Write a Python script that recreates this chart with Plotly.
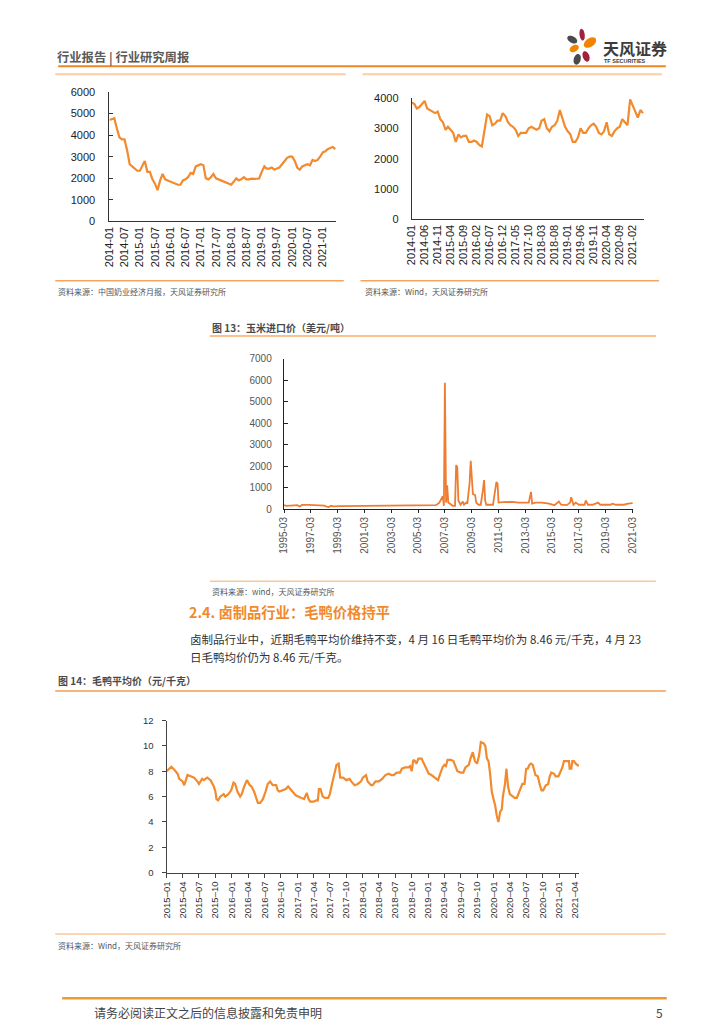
import math
import pandas as pd
import plotly.graph_objects as go

W, H = 724, 1024
ORANGE = "#F28A2E"
CJK = "Noto Sans CJK SC"
NUM = "Liberation Sans"

# ---------------- data ----------------
milk_start = "2014-01-01"
milk_vals = [4700, 4750, 4780, 4300, 3900, 3800, 3800, 3300, 2650, 2550, 2450, 2350,
             2350, 2600, 2800, 2300, 2300, 1950, 1750, 1450, 1900, 2200, 1950, 1900,
             1850, 1800, 1750, 1700, 1700, 1900, 1950, 2050, 2250, 2200, 2550, 2600,
             2650, 2600, 2000, 1950, 2050, 2200, 2000, 1950, 1900, 1850, 1800, 1750,
             1700, 1850, 2000, 1900, 1950, 2050, 1950, 1950, 1980, 1970, 1980, 1990,
             2300, 2550, 2450, 2450, 2500, 2400, 2450, 2500, 2650, 2800, 2950, 3000,
             3000, 2800, 2500, 2400, 2550, 2600, 2650, 2600, 2850, 2800, 2850, 3000,
             3200, 3250, 3350, 3400, 3450, 3350]

feed_start = "2014-01-01"
feed_vals = [3850, 3800, 3650, 3700, 3800, 3900, 3650, 3600, 3550, 3500, 3550, 3300,
             3200, 2950, 3050, 2950, 2850, 2550, 2800, 2700, 2750, 2750, 2550, 2550,
             2600, 2550, 2450, 2400, 2900, 3450, 3400, 3100, 3150, 3250, 3250, 3500,
             3400, 3200, 3100, 3050, 2950, 2750, 2850, 2850, 2850, 3000, 3050, 3000,
             2950, 3000, 3250, 3300, 3000, 2900, 3050, 3100, 3250, 3600, 3300, 3050,
             2900, 2800, 2550, 2550, 2700, 3000, 2850, 2850, 3000, 3100, 3150, 3050,
             2850, 2800, 2900, 3200, 2800, 2750, 2900, 3000, 3050, 3300, 3200, 3100,
             3950, 3750, 3600, 3350, 3600, 3500]

corn_dates = ["1995-03", "1995-05", "1995-12", "1996-03", "1996-05", "1996-07", "1997-01", "1997-09",
              "1998-03", "1998-05", "1998-07", "1998-09", "1998-11", "1999-05", "2001-03", "2003-03",
              "2005-03", "2006-07", "2006-10", "2006-12", "2007-01", "2007-02", "2007-03", "2007-04",
              "2007-05", "2007-06", "2007-10", "2007-12", "2008-01", "2008-02", "2008-03", "2008-05",
              "2008-07", "2008-08", "2008-10", "2008-11", "2009-01", "2009-02", "2009-03", "2009-04",
              "2009-06", "2009-07", "2009-09", "2009-11", "2010-01", "2010-02", "2010-03", "2010-04",
              "2010-10", "2010-12", "2011-01", "2011-02", "2011-03", "2011-07", "2012-03", "2012-09",
              "2013-06", "2013-08", "2013-09", "2013-12", "2014-06", "2014-12", "2015-05", "2015-09",
              "2015-11", "2016-04", "2016-07", "2016-08", "2016-10", "2016-12", "2017-03", "2017-08",
              "2017-09", "2017-11", "2018-03", "2018-08", "2018-10", "2019-07", "2019-09", "2019-12",
              "2020-07", "2020-11", "2021-03"]
corn_vals = [180, 150, 170, 180, 120, 190, 190, 180, 160, 110, 90, 150, 120, 140, 150, 160,
             170, 180, 300, 500, 600, 150, 5880, 300, 1100, 300, 150, 150, 2050, 1950, 400, 200,
             350, 200, 300, 250, 1200, 2250, 1300, 700, 650, 300, 200, 200, 900, 1350, 400, 200,
             200, 900, 1250, 1200, 300, 320, 330, 300, 300, 800, 250, 300, 300, 250, 180, 350,
             200, 180, 300, 550, 200, 300, 200, 200, 400, 200, 200, 300, 200, 200, 250, 200,
             200, 250, 280]

duck_dates = ["2015-01-01", "2015-01-19", "2015-01-28", "2015-02-15", "2015-03-04", "2015-03-13",
              "2015-04-01", "2015-04-10", "2015-04-28", "2015-05-16", "2015-06-04", "2015-06-22",
              "2015-07-01", "2015-07-19", "2015-07-28", "2015-08-16", "2015-09-04", "2015-09-22",
              "2015-10-01", "2015-10-07", "2015-10-16", "2015-10-28", "2015-11-16", "2015-11-25",
              "2015-12-13", "2015-12-28", "2016-01-10", "2016-01-19", "2016-02-01", "2016-02-16",
              "2016-02-25", "2016-03-10", "2016-03-25", "2016-04-10", "2016-04-19", "2016-05-04",
              "2016-05-16", "2016-05-25", "2016-06-07", "2016-06-22", "2016-07-07", "2016-07-19",
              "2016-08-01", "2016-08-16", "2016-09-04", "2016-09-13", "2016-09-22", "2016-10-10",
              "2016-10-28", "2016-11-10", "2016-11-25", "2016-12-10", "2016-12-22", "2017-01-10",
              "2017-01-28", "2017-02-07", "2017-02-22", "2017-03-04", "2017-03-13", "2017-04-01",
              "2017-04-16", "2017-04-25", "2017-05-01", "2017-05-10", "2017-05-22", "2017-06-04",
              "2017-06-22", "2017-07-01", "2017-07-13", "2017-07-25", "2017-08-07", "2017-08-19",
              "2017-08-28", "2017-09-13", "2017-10-01", "2017-10-19", "2017-10-28", "2017-11-16",
              "2017-12-04", "2017-12-22", "2018-01-01", "2018-01-19", "2018-01-28", "2018-02-16",
              "2018-02-25", "2018-03-13", "2018-04-01", "2018-04-19", "2018-05-07", "2018-05-25",
              "2018-06-10", "2018-06-22", "2018-07-10", "2018-07-28", "2018-08-07", "2018-08-25",
              "2018-09-13", "2018-09-22", "2018-10-01", "2018-10-10", "2018-10-19", "2018-10-28",
              "2018-11-07", "2018-11-25", "2018-12-10", "2018-12-22", "2019-01-04", "2019-01-19",
              "2019-02-07", "2019-02-25", "2019-03-04", "2019-03-22", "2019-04-01", "2019-04-10",
              "2019-04-19", "2019-05-07", "2019-05-22", "2019-06-04", "2019-06-13", "2019-07-01",
              "2019-07-16", "2019-07-28", "2019-08-16", "2019-08-25", "2019-09-07", "2019-09-19",
              "2019-10-01", "2019-10-13", "2019-10-22", "2019-11-07", "2019-11-16", "2019-11-25",
              "2019-12-04", "2019-12-13", "2019-12-22", "2020-01-01", "2020-01-10", "2020-01-19",
              "2020-01-28", "2020-02-07", "2020-02-16", "2020-02-22", "2020-02-28", "2020-03-04",
              "2020-03-13", "2020-03-22", "2020-04-01", "2020-04-16", "2020-04-28", "2020-05-10",
              "2020-05-25", "2020-06-10", "2020-06-22", "2020-07-01", "2020-07-10", "2020-07-19",
              "2020-07-28", "2020-08-07", "2020-08-22", "2020-09-04", "2020-09-16", "2020-09-25",
              "2020-10-04", "2020-10-19", "2020-11-01", "2020-11-10", "2020-11-19", "2020-12-04",
              "2020-12-13", "2020-12-28", "2021-01-07", "2021-01-19", "2021-01-28", "2021-02-10",
              "2021-02-25", "2021-03-01", "2021-03-10", "2021-03-16", "2021-03-25", "2021-04-04",
              "2021-04-16", "2021-04-23"]
duck_vals = [8.0, 8.2, 8.35, 8.1, 7.8, 7.4, 7.2, 6.9, 7.7, 7.6, 7.5, 7.2,
             7.0, 7.4, 7.3, 7.5, 7.3, 6.8, 6.4, 5.8, 5.7, 6.0, 6.2, 6.0,
             6.2, 6.5, 7.1, 7.0, 6.4, 6.0, 6.2, 6.8, 7.3, 6.9, 6.8, 6.4,
             5.8, 5.5, 5.5, 5.8, 6.4, 7.0, 7.2, 6.9, 6.9, 6.5, 6.4, 6.5,
             6.6, 6.8, 6.5, 6.3, 6.1, 6.0, 5.9, 5.8, 6.3, 5.8, 5.6, 5.6,
             5.7, 5.7, 6.6, 6.6, 6.0, 5.9, 5.9, 6.2, 7.0, 7.8, 8.5, 8.6,
             7.5, 7.5, 7.3, 7.4, 7.2, 6.9, 7.0, 7.2, 7.5, 7.7, 7.2, 6.9,
             6.9, 7.2, 7.2, 7.4, 7.7, 7.8, 7.7, 7.7, 7.9, 7.9, 8.2, 8.3,
             8.3, 8.4, 8.0, 8.9, 8.8, 8.6, 9.0, 9.0, 8.6, 8.2, 7.8, 7.7,
             7.5, 7.3, 7.6, 8.3, 8.5, 8.4, 8.9, 8.9, 8.8, 8.3, 8.0, 7.9,
             7.9, 8.3, 8.5, 9.0, 9.5, 8.8, 8.6, 9.3, 10.3, 10.2, 10.0, 9.0,
             8.8, 7.8, 6.4, 5.8, 5.3, 4.5, 4.0, 4.8, 5.0, 6.0, 6.5, 6.9,
             8.2, 6.8, 6.2, 6.0, 5.9, 5.9, 6.5, 7.0, 7.0, 8.2, 8.2, 8.5,
             8.6, 8.5, 7.7, 7.6, 6.9, 6.5, 6.5, 6.9, 7.0, 7.6, 7.9, 7.8,
             7.6, 7.6, 7.9, 8.3, 8.8, 8.8, 8.8, 8.2, 8.2, 8.8, 8.8, 8.6,
             8.46, 8.46]

# ---------------- helpers ----------------
def X(px):
    return px / W


def Y(py):
    return 1 - py / H


milk_dates = pd.date_range(milk_start, periods=len(milk_vals), freq="MS")
feed_dates = pd.date_range(feed_start, periods=len(feed_vals), freq="MS")

fig = go.Figure()
fig.add_trace(go.Scatter(x=milk_dates, y=milk_vals, mode="lines", xaxis="x", yaxis="y",
                         line=dict(color=ORANGE, width=2.2), showlegend=False, hoverinfo="skip"))
fig.add_trace(go.Scatter(x=feed_dates, y=feed_vals, mode="lines", xaxis="x2", yaxis="y2",
                         line=dict(color=ORANGE, width=2.2), showlegend=False, hoverinfo="skip"))
fig.add_trace(go.Scatter(x=corn_dates, y=corn_vals, mode="lines", xaxis="x3", yaxis="y3",
                         line=dict(color="#EE7D31", width=1.8), showlegend=False, hoverinfo="skip"))
fig.add_trace(go.Scatter(x=duck_dates, y=duck_vals, mode="lines", xaxis="x4", yaxis="y4",
                         line=dict(color=ORANGE, width=2.2), showlegend=False, hoverinfo="skip"))


def xax(domain, anchor, rng, tick0, dtick, fmt, size, color, lc, ticks="", ticklen=0):
    return dict(domain=domain, anchor=anchor, type="date", range=rng, tick0=tick0, dtick=dtick,
                tickformat=fmt, tickangle=-90, showline=True, linecolor=lc, linewidth=1,
                showgrid=False, zeroline=False, ticks=ticks, ticklen=ticklen, tickcolor=lc,
                tickfont=dict(family=NUM, size=size, color=color), fixedrange=True)


def yax(domain, anchor, rng, dtick, size, color, lc, standoff, ticks="inside", ticklen=4):
    return dict(domain=domain, anchor=anchor, range=rng, dtick=dtick, showline=True,
                linecolor=lc, linewidth=1, showgrid=False, zeroline=False, ticks=ticks,
                ticklen=ticklen, tickcolor=lc, ticklabelstandoff=standoff,
                tickfont=dict(family=NUM, size=size, color=color), fixedrange=True)


layout = dict(
    width=W, height=H, autosize=False, margin=dict(l=0, r=0, t=0, b=0),
    paper_bgcolor="white", plot_bgcolor="white", showlegend=False,
    xaxis=xax([X(105), X(335)], "y", ["2014-01-01", "2021-06-08"], "2014-01-01", "M6",
              "%Y-%m", 11, "#222", "#333"),
    yaxis=yax([Y(218), Y(87)], "x", [0, 6000], 1000, 11, "#222", "#333", 11),
    xaxis2=xax([X(412), X(648)], "y2", ["2014-01-01", "2021-06-14"], "2014-01-01", "M5",
               "%Y-%m", 11, "#222", "#333"),
    yaxis2=yax([Y(216), Y(93)], "x2", [0, 4000], 1000, 11, "#222", "#333", 10, ticks=""),
    xaxis3=xax([X(282), X(637)], "y3", ["1995-02-20", "2021-03-20"], "1995-03-01", "M24",
               "%Y-%m", 10, "#555", "#222", ticks="outside", ticklen=3),
    yaxis3=yax([Y(509), Y(357)], "x3", [0, 7000], 1000, 10, "#555", "#222", 9),
    xaxis4=xax([X(163), X(582)], "y4", ["2015-01-01", "2021-04-23"], "2015-01-01", "M3",
               "%Y–%m", 9.5, "#333", "#444", ticks="outside", ticklen=4),
    yaxis4=yax([Y(877), Y(723)], "x4", [0, 12], 2, 9.5, "#333", "#444", 6,
               ticks="outside", ticklen=4),
)
fig.update_layout(**layout)

# ---------------- page furniture ----------------
shapes = []


def hline(x0, x1, y, color, width):
    shapes.append(dict(type="line", xref="paper", yref="paper", x0=X(x0), x1=X(x1),
                       y0=Y(y), y1=Y(y), line=dict(color=color, width=width)))


PEACH = "#FBCFA6"
hline(53, 670, 61, "#EF8722", 2)
hline(50, 345, 69, PEACH, 2)
hline(362, 666, 69, PEACH, 2)
hline(50, 343, 278, "#F4A463", 1.5)
hline(360, 663, 278, "#F4A463", 1.5)
hline(207, 660, 334, "#F9BF8C", 2)
hline(207, 660, 582, "#F9C89A", 1.5)
hline(50, 670, 693, "#F6B47C", 2)
hline(50, 670, 939, "#F9C89A", 1.5)
hline(57, 671, 1004, "#EE9A30", 2.5)


def petal(cx, cy, a, b, ang, color):
    t = math.radians(ang)
    pts = []
    for k in range(24):
        th = 2 * math.pi * k / 24
        ex, ey = a * math.cos(th), b * math.sin(th)
        px_ = cx + ex * math.cos(t) - ey * math.sin(t)
        py_ = cy + ex * math.sin(t) + ey * math.cos(t)
        pts.append(f"{X(px_):.5f},{Y(py_):.5f}")
    path = "M " + " L ".join(pts) + " Z"
    shapes.append(dict(type="path", xref="paper", yref="paper", path=path,
                       fillcolor=color, line=dict(width=0)))


CRIM = "#A3203F"
GRAY = "#4A4A4A"
LOR = "#F08300"
petal(585, 29, 2.6, 6.0, -8, CRIM)
petal(575, 34, 5.5, 3.3, 30, GRAY)
petal(593, 37, 7.0, 4.3, -35, LOR)
petal(577, 43, 5.0, 3.3, -30, LOR)
petal(589, 51, 3.3, 5.5, -20, CRIM)
petal(580, 54, 3.5, 5.5, 15, GRAY)

fig.update_layout(shapes=shapes)

ann = []


def text(x, y, s, size, color, family=CJK, xanchor="left"):
    shift = -6 if xanchor == "left" else 5
    ann.append(dict(xref="paper", yref="paper", x=X(x + shift), y=Y(y), text=s, showarrow=False,
                    xanchor=xanchor, yanchor="middle", align="left",
                    font=dict(family=family, size=size, color=color)))


text(56, 52, "<b>行业报告 | 行业研究周报</b>", 12.3, "#5A5A5A")
text(610, 42, "<b>天风证券</b>", 16, "#3C3C3C")
text(611, 55.5, "<b>TF SECURITIES</b>", 5.5, "#3C3C3C", family=NUM)
text(57, 289, "资料来源：中国奶业经济月报，天风证券研究所", 8, "#555")
text(368, 289, "资料来源：Wind，天风证券研究所", 8, "#555")
text(213, 325, "<b>图 13：玉米进口价（美元/吨）</b>", 10, "#4A4A4A")
text(213, 592, "资料来源：wind，天风证券研究所", 8, "#555")
text(190, 613, "<b>2.4. 卤制品行业：毛鸭价格持平</b>", 14.3, "#F08A2E")
text(191, 640, "卤制品行业中，近期毛鸭平均价维持不变，4 月 16 日毛鸭平均价为 8.46 元/千克，4 月 23",
     11.5, "#333")
text(191, 659, "日毛鸭均价仍为 8.46 元/千克。", 11.5, "#333")
text(57, 683, "<b>图 14：毛鸭平均价（元/千克）</b>", 10, "#4A4A4A")
text(57, 951, "资料来源：Wind，天风证券研究所", 8, "#555")
text(93, 1018, "请务必阅读正文之后的信息披露和免责申明", 12, "#444")
text(664, 1018, "5", 12, "#444", xanchor="right")

fig.update_layout(annotations=ann)

fig.write_html(
    "out.html",
    config={"displayModeBar": False, "staticPlot": True},
    post_script="document.body.style.margin='0';document.body.style.overflow='hidden';",
)
